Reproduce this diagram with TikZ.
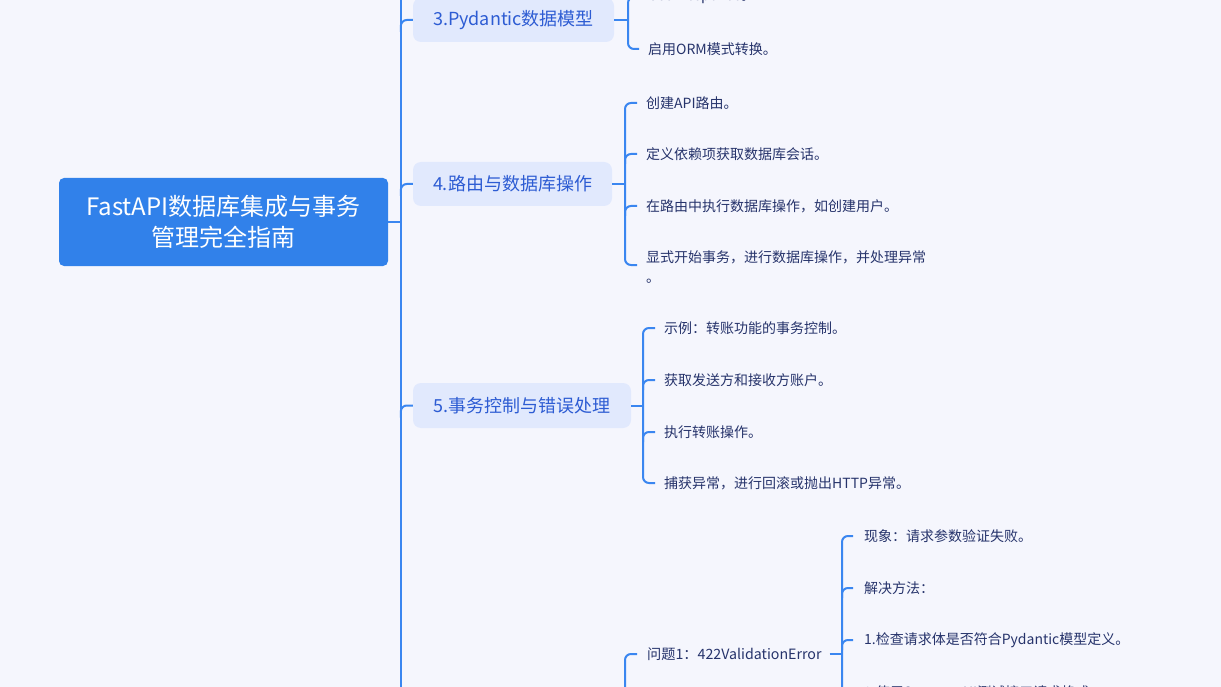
\documentclass[tikz,border=0pt]{standalone}
\usepackage{fontspec}
\setmainfont{Noto Sans CJK SC}
\usetikzlibrary{calc}
\definecolor{bgc}{HTML}{F5F6FD}
\definecolor{rootc}{HTML}{3181EA}
\definecolor{lonec}{HTML}{E1E9FD}
\definecolor{lonetext}{HTML}{2D5CD3}
\definecolor{leaftext}{HTML}{26336B}
\definecolor{linec}{HTML}{3A86F0}
\tikzset{
  rootbox/.style={fill=rootc, rounded corners=5pt, text=white, align=center,
    minimum width=329pt, minimum height=88pt, inner sep=0pt,
    font=\fontsize{24}{31}\selectfont},
  lonebox/.style={fill=lonec, rounded corners=8pt, text=lonetext,
    minimum height=44pt, inner sep=0pt, font=\fontsize{18}{20}\selectfont},
  leaf/.style={anchor=west, inner sep=0pt, text=leaftext, align=left,
    font=\fontsize{14}{20}\selectfont},
  ltwo/.style={anchor=west, inner sep=0pt, text=leaftext,
    font=\fontsize{14.2}{18}\selectfont},
  conn/.style={draw=linec, line width=2pt, rounded corners=6pt},
}
\begin{document}
\begin{tikzpicture}[x=1pt, y=-1pt]
\useasboundingbox (0,0) rectangle (1221,687);
\fill[bgc] (0,0) rectangle (1221,687);
\clip (0,0) rectangle (1221,687);

% root and level 1
\node[rootbox] (root) at (223.5,222) {FastAPI数据库集成与事务\\管理完全指南};
\node[lonebox, minimum width=201pt] (n3) at (513.5,20) {3.Pydantic数据模型};
\node[lonebox, minimum width=199pt] (n4) at (512.5,184) {4.路由与数据库操作};
\node[lonebox, minimum width=218pt, minimum height=45pt] (n5) at (522,405.5) {5.事务控制与错误处理};

\coordinate (trunktop) at (401,-20);
\coordinate (trunkbot) at (401,710);
\draw[conn] (trunktop) -- (trunkbot);
\draw[conn] (root.east) -- (root.east -| trunktop);
\draw[conn] ($(n3.west)+(-12,12)$) |- (n3.west);
\draw[conn] ($(n4.west)+(-12,12)$) |- (n4.west);
\draw[conn] ($(n5.west)+(-12,12)$) |- (n5.west);

% children of 3
\node[leaf] (c31) at (648,-3) {UserResponse。};
\node[leaf] (c32) at (648,49) {启用ORM模式转换。};
\coordinate (b3) at (628,20);
\draw[conn] (n3.east) -- (b3);
\draw[conn] ($(c31.west)+(-9,0)$) -| (b3) |- ($(c32.west)+(-9,0)$);

% children of 4
\node[leaf] (c41) at (646,103) {创建API路由。};
\node[leaf] (c42) at (646,154) {定义依赖项获取数据库会话。};
\node[leaf] (c43) at (646,206) {在路由中执行数据库操作，如创建用户。};
\node[leaf] (c44) at (646,267) {显式开始事务，进行数据库操作，并处理异常\\。};
\coordinate (b4) at (625,184);
\draw[conn] (n4.east) -- (b4);
\draw[conn] ($(c41.west)+(-9,0)$) -| (b4) |- ($(c44.west)+(-9,-2)$);
\draw[conn] ($(c42.west)+(-21,10)$) |- ($(c42.west)+(-9,0)$);
\draw[conn] ($(c43.west)+(-21,10)$) |- ($(c43.west)+(-9,0)$);

% children of 5
\node[leaf] (c51) at (664,328) {示例：转账功能的事务控制。};
\node[leaf] (c52) at (664,380) {获取发送方和接收方账户。};
\node[leaf] (c53) at (664,432) {执行转账操作。};
\node[leaf] (c54) at (664,483) {捕获异常，进行回滚或抛出HTTP异常。};
\coordinate (b5) at (643,405.5);
\draw[conn] (n5.east) -- (b5);
\draw[conn] ($(c51.west)+(-9,0)$) -| (b5) |- ($(c54.west)+(-9,0)$);
\draw[conn] ($(c52.west)+(-21,10)$) |- ($(c52.west)+(-9,0)$);
\draw[conn] ($(c53.west)+(-21,10)$) |- ($(c53.west)+(-9,0)$);

% level 2 under the (hidden) sixth branch
\node[ltwo] (q1) at (647,654) {问题1：422ValidationError};
\coordinate (b6low) at (625,720);
\draw[conn] ($(q1.west)+(-10,0)$) -| (b6low);

\node[leaf] (d1) at (864,536) {现象：请求参数验证失败。};
\node[leaf] (d2) at (864,588) {解决方法：};
\node[leaf] (d3) at (864,640) {1.检查请求体是否符合Pydantic模型定义。};
\node[leaf] (d4) at (864,693) {2.使用Swagger UI测试接口请求格式。};
\coordinate (bq) at (842,654);
\draw[conn] ($(q1.east)+(8,0)$) -- (bq);
\draw[conn] ($(d1.west)+(-11,0)$) -| (bq) -- (842,720);
\draw[conn] ($(d2.west)+(-22,10)$) |- ($(d2.west)+(-11,0)$);
\draw[conn] ($(d3.west)+(-22,10)$) |- ($(d3.west)+(-11,0)$);
\draw[conn] ($(d4.west)+(-22,10)$) |- ($(d4.west)+(-11,0)$);
\end{tikzpicture}
\end{document}
